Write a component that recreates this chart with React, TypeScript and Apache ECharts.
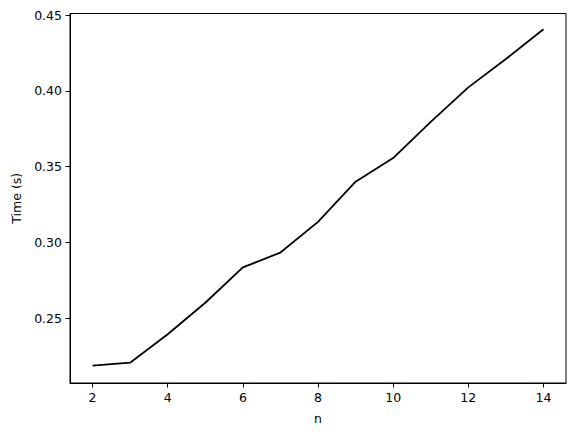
import React, { useEffect, useRef } from 'react';
import * as echarts from 'echarts';

// problem size
const nValues = [2, 3, 4, 5, 6, 7, 8, 9, 10, 11, 12, 13, 14];
// measured run time in seconds
const times = [
  0.2188, 0.2208, 0.2395, 0.2603, 0.2836, 0.2934, 0.3136,
  0.3401, 0.3557, 0.3795, 0.4023, 0.421, 0.4406
];
const xTicks = [2, 4, 6, 8, 10, 12, 14];
const yTicks = [0.25, 0.3, 0.35, 0.4, 0.45];

const FONT = 'DejaVu Sans';

const App: React.FC = () => {
  const chartRef = useRef<HTMLDivElement>(null);

  useEffect(() => {
    if (!chartRef.current) return;
    const chart = echarts.init(chartRef.current, undefined, { renderer: 'svg' });

    const axisText = { color: '#000', fontFamily: FONT, fontSize: 12.5 };

    const option = {
      animation: false,
      backgroundColor: '#fff',
      grid: {
        left: 70,
        right: 10,
        top: 13.5,
        bottom: 53,
        show: true,
        borderColor: '#000',
        borderWidth: 1,
        backgroundColor: 'transparent'
      },
      xAxis: {
        type: 'value',
        min: 1.4,
        max: 14.6,
        name: 'n',
        nameLocation: 'middle',
        nameGap: 29,
        nameTextStyle: axisText,
        axisLine: { show: true, onZero: false, lineStyle: { color: '#000', width: 1 } },
        axisTick: {
          show: true,
          length: 4.5,
          lineStyle: { color: '#000', width: 1 },
          customValues: xTicks
        },
        axisLabel: {
          ...axisText,
          margin: 8,
          customValues: xTicks,
          formatter: (v: number) => String(v)
        },
        splitLine: { show: false }
      },
      yAxis: {
        type: 'value',
        min: 0.2074,
        max: 0.451,
        name: 'Time (s)',
        nameLocation: 'middle',
        nameGap: 46,
        nameTextStyle: axisText,
        axisLine: { show: true, onZero: false, lineStyle: { color: '#000', width: 1 } },
        axisTick: {
          show: true,
          length: 4.5,
          lineStyle: { color: '#000', width: 1 },
          customValues: yTicks
        },
        axisLabel: {
          ...axisText,
          margin: 8,
          customValues: yTicks,
          formatter: (v: number) => v.toFixed(2)
        },
        splitLine: { show: false }
      },
      series: [
        {
          type: 'line',
          data: nValues.map((n, i) => [n, times[i]]),
          symbol: 'none',
          lineStyle: { color: '#000', width: 1.8 },
          itemStyle: { color: '#000' }
        }
      ]
    };

    chart.setOption(option as echarts.EChartsOption);

    return () => {
      chart.dispose();
    };
  }, []);

  return (
    <div
      ref={chartRef}
      style={{ position: 'fixed', left: 0, top: 0, width: 576, height: 436 }}
    />
  );
};

export default App;
